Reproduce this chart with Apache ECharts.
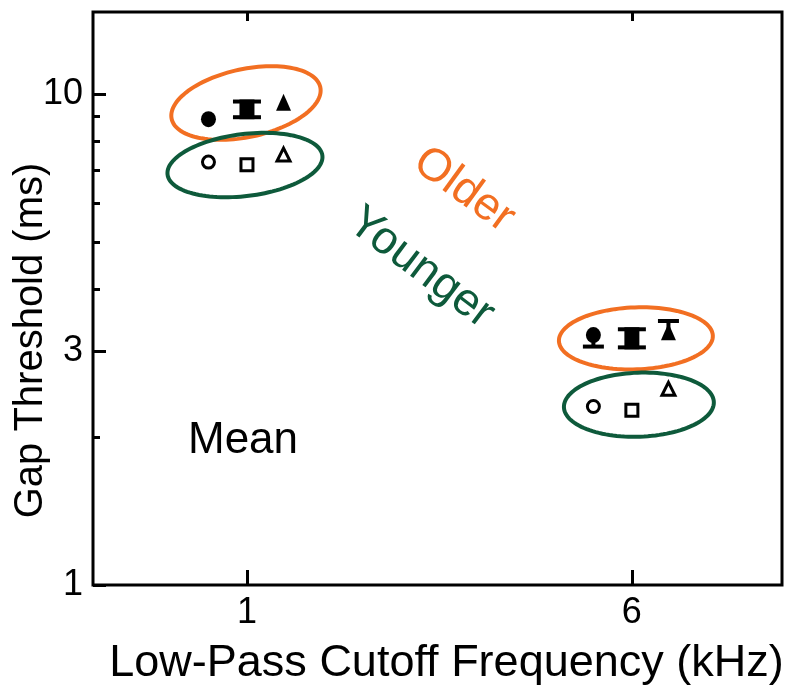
<!DOCTYPE html>
<html>
<head>
<meta charset="utf-8">
<script src="https://cdn.jsdelivr.net/npm/echarts@6/dist/echarts.min.js"></script>
<style>
  html, body { margin: 0; padding: 0; background: #ffffff; }
  #chart { width: 789px; height: 698px; }
</style>
</head>
<body>
<div id="chart"></div>
<script>
// Low-pass cutoff frequencies (kHz), placed at positions 1 and 2 along x
const cutoffLabels = ['1', '6'];
const cutoffPos = [1, 2];

// Gap thresholds (ms) — older listeners
const olderCircle = [8.89, 3.23];
const olderCircleLow = [null, 3.06];
const olderMean = [9.33, 3.18];
const olderMeanLow = [8.89, 3.02];
const olderMeanHigh = [9.75, 3.35];
const olderTriangle = [9.63, 3.28];
const olderTriangleHigh = [null, 3.45];

// Gap thresholds (ms) — younger listeners
const youngerCircle = [7.27, 2.31];
const youngerMean = [7.18, 2.27];
const youngerTriangle = [7.53, 2.51];

// Vertical centres of the group outlines (ms)
const olderRing = [9.59, 3.18];
const youngerRing = [7.17, 2.33];

// Y-axis ticks (ms)
const yTickLabels = [1, 3, 10];
const yMinorTicks = [2, 4, 5, 6, 7, 8, 9];

const ORANGE = '#F26F22';
const GREEN = '#0E5A3B';
const FONT = '"Liberation Sans", Arial, Helvetica, sans-serif';
const SPREAD = 0.1; // horizontal separation of the three symbols within a group

// outline shapes, in pixels: radii, tilt (deg), small sideways nudge
const olderRingGeom = [{ rx: 76, ry: 34, rot: -12, dx: -1 }, { rx: 77, ry: 31, rot: -2, dx: 4 }];
const youngerRingGeom = [{ rx: 78, ry: 31, rot: -7, dx: -2 }, { rx: 75, ry: 32, rot: -2, dx: 7 }];

function ringItem(geom, color) {
  return function (params, api) {
    const g = geom[params.dataIndex];
    const c = api.coord([api.value(0), api.value(1)]);
    const cx = c[0] + g.dx, cy = c[1];
    const a = g.rot * Math.PI / 180;
    const pts = [];
    for (let k = 0; k < 120; k++) {
      const t = k / 120 * 2 * Math.PI;
      const ex = g.rx * Math.cos(t), ey = g.ry * Math.sin(t);
      pts.push([cx + ex * Math.cos(a) - ey * Math.sin(a), cy + ex * Math.sin(a) + ey * Math.cos(a)]);
    }
    return { type: 'polygon', shape: { points: pts }, style: { fill: 'none', stroke: color, lineWidth: 4 } };
  };
}

// I-beam: thick body between low and high with a cap at each end
function beamItem(params, api) {
  const x = api.value(0);
  const lo = api.coord([x, api.value(1)]);
  const hi = api.coord([x, api.value(2)]);
  const bw = 15, cw = 28, ch = 4;
  return {
    type: 'group', children: [
      { type: 'rect', shape: { x: hi[0] - bw / 2, y: hi[1], width: bw, height: lo[1] - hi[1] }, style: { fill: '#000' } },
      { type: 'rect', shape: { x: hi[0] - cw / 2, y: hi[1], width: cw, height: ch }, style: { fill: '#000' } },
      { type: 'rect', shape: { x: lo[0] - cw / 2, y: lo[1] - ch, width: cw, height: ch }, style: { fill: '#000' } }
    ]
  };
}

// one-sided error bar from a point to its capped end
function whiskerItem(params, api) {
  const x = api.value(0);
  const from = api.coord([x, api.value(1)]);
  const to = api.coord([x, api.value(2)]);
  const cw = 21, ch = 4;
  return {
    type: 'group', children: [
      { type: 'line', shape: { x1: from[0], y1: from[1], x2: to[0], y2: to[1] }, style: { stroke: '#000', lineWidth: 4 } },
      { type: 'rect', shape: { x: to[0] - cw / 2, y: to[1] - ch / 2, width: cw, height: ch }, style: { fill: '#000' } }
    ]
  };
}

const pts = (vals, shift) => cutoffPos.map((p, i) => [p + shift, vals[i]]);

const whiskerData = [];
cutoffPos.forEach((p, i) => {
  if (olderCircleLow[i] != null) whiskerData.push([p - SPREAD, olderCircle[i], olderCircleLow[i]]);
  if (olderTriangleHigh[i] != null) whiskerData.push([p + SPREAD * 0.95, olderTriangle[i], olderTriangleHigh[i]]);
});

const chart = echarts.init(document.getElementById('chart'), null, { renderer: 'canvas' });

const xCommon = { type: 'value', min: 0.6, max: 2.39, splitLine: { show: false }, axisLine: { show: false } };
const yCommon = { type: 'log', logBase: 10, min: 1, max: 14.7, splitLine: { show: false }, axisLine: { show: false } };

chart.setOption({
  backgroundColor: '#ffffff',
  animation: false,
  grid: {
    left: 93, right: 7, top: 12, bottom: 113,
    containLabel: false, outerBoundsMode: 'none',
    show: true, borderColor: '#000', borderWidth: 3, backgroundColor: 'transparent'
  },
  xAxis: [
    Object.assign({}, xCommon, {
      position: 'bottom',
      name: 'Low-Pass Cutoff Frequency (kHz)',
      nameLocation: 'middle',
      nameGap: 56,
      nameMoveOverlap: false,
      nameTextStyle: { fontFamily: FONT, fontSize: 45, color: '#000', padding: [0, 0, 0, 18] },
      axisTick: { show: true, inside: true, length: 15, customValues: cutoffPos, lineStyle: { color: '#000', width: 3 } },
      axisLabel: {
        show: true, margin: 10, customValues: cutoffPos, fontFamily: FONT, fontSize: 36, color: '#000',
        formatter: v => cutoffLabels[cutoffPos.indexOf(Math.round(v))] || ''
      }
    }),
    Object.assign({}, xCommon, {
      position: 'top',
      axisTick: { show: true, inside: true, length: 9, customValues: cutoffPos, lineStyle: { color: '#000', width: 3 } },
      axisLabel: { show: false }
    })
  ],
  yAxis: [
    Object.assign({}, yCommon, {
      position: 'left',
      name: 'Gap Threshold (ms)',
      nameLocation: 'middle',
      nameGap: 42,
      nameMoveOverlap: false,
      nameTextStyle: { fontFamily: FONT, fontSize: 40, color: '#000', padding: [0, 84, 0, 0] },
      axisTick: { show: true, inside: true, length: 13, customValues: yTickLabels, lineStyle: { color: '#000', width: 3 } },
      axisLabel: { show: true, margin: 10, customValues: yTickLabels, fontFamily: FONT, fontSize: 36, color: '#000', formatter: v => String(Math.round(v)) }
    }),
    Object.assign({}, yCommon, {
      position: 'left',
      offset: 0,
      axisTick: { show: true, inside: true, length: 7, customValues: yMinorTicks, lineStyle: { color: '#000', width: 3 } },
      axisLabel: { show: false }
    })
  ],
  graphic: [
    { type: 'text', x: 464, y: 190, rotation: -36 * Math.PI / 180,
      style: { text: 'Older', font: '46px ' + FONT, fill: ORANGE, align: 'center', verticalAlign: 'middle', textAlign: 'center', textVerticalAlign: 'middle' } },
    { type: 'text', x: 421, y: 268, rotation: -37 * Math.PI / 180,
      style: { text: 'Younger', font: '46px ' + FONT, fill: GREEN, align: 'center', verticalAlign: 'middle', textAlign: 'center', textVerticalAlign: 'middle' } },
    { type: 'text', x: 188, y: 441,
      style: { text: 'Mean', font: '44px ' + FONT, fill: '#000', align: 'left', verticalAlign: 'middle', textAlign: 'left', textVerticalAlign: 'middle' } }
  ],
  series: [
    { name: 'Older outline', type: 'custom', renderItem: ringItem(olderRingGeom, ORANGE), data: pts(olderRing, 0), z: 1, silent: true },
    { name: 'Younger outline', type: 'custom', renderItem: ringItem(youngerRingGeom, GREEN), data: pts(youngerRing, 0), z: 1, silent: true },
    { name: 'Older error', type: 'custom', renderItem: whiskerItem, data: whiskerData, z: 2 },
    { name: 'Older mean', type: 'custom', renderItem: beamItem,
      data: cutoffPos.map((p, i) => [p, olderMeanLow[i], olderMeanHigh[i], olderMean[i]]), z: 3 },
    { name: 'Older circle', type: 'scatter', symbol: 'circle', symbolSize: [15, 16], data: pts(olderCircle, -SPREAD),
      itemStyle: { color: '#000', opacity: 1 }, z: 3 },
    { name: 'Older triangle', type: 'scatter', symbol: 'triangle', symbolSize: [15, 17], data: pts(olderTriangle, SPREAD * 0.95),
      itemStyle: { color: '#000', opacity: 1 }, z: 3 },
    { name: 'Younger circle', type: 'scatter', symbol: 'circle', symbolSize: 12, data: pts(youngerCircle, -SPREAD),
      itemStyle: { color: '#fff', borderColor: '#000', borderWidth: 3, opacity: 1 }, z: 3 },
    { name: 'Younger mean', type: 'scatter', symbol: 'rect', symbolSize: 12, data: pts(youngerMean, 0),
      itemStyle: { color: '#fff', borderColor: '#000', borderWidth: 3, opacity: 1 }, z: 3 },
    { name: 'Younger triangle', type: 'scatter', symbol: 'triangle', symbolSize: [13, 13], data: pts(youngerTriangle, SPREAD * 0.95),
      itemStyle: { color: '#fff', borderColor: '#000', borderWidth: 3, opacity: 1 }, z: 3 }
  ]
});
</script>
</body>
</html>
